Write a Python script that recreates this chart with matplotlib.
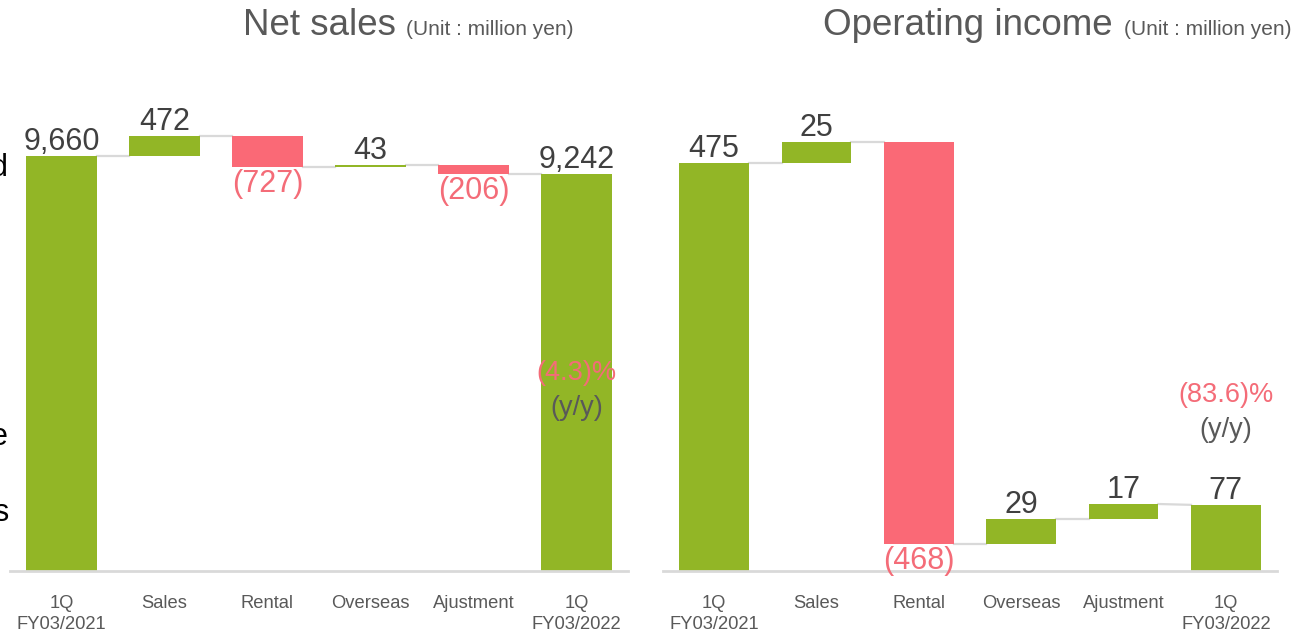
import matplotlib
matplotlib.use("Agg")
import matplotlib.pyplot as plt
import numpy as np

plt.rcParams['font.family'] = ['Liberation Sans', 'DejaVu Sans']

# data
categories = ["1Q\nFY03/2021", "Sales", "Rental", "Overseas", "Ajustment", "1Q\nFY03/2022"]
sales_start = 9660
sales_deltas = [472, -727, 43, -206]
sales_end = 9242
sales_yoy = "(4.3)%"

oi_start = 475
oi_deltas = [25, -468, 29, 17]
oi_end = 77
oi_yoy = "(83.6)%"

GREEN = "#92B626"
RED = "#FA6976"
RED_TXT = "#F46C78"
DARK = "#404040"
GRAY_TXT = "#595959"
LINE = "#D9D9D9"

W, H = 1310, 631
AX_H_PX = 481


def fmt(v):
    return "({:,})".format(abs(v)) if v < 0 else "{:,}".format(v)


def waterfall(ax, start, deltas, end, ymax, yoy, yoy_y):
    x = np.arange(len(categories))
    bottoms, heights, colors = [0], [start], [GREEN]
    level = start
    levels = [start]
    for d in deltas:
        if d >= 0:
            bottoms.append(level)
            heights.append(d)
            colors.append(GREEN)
        else:
            bottoms.append(level + d)
            heights.append(-d)
            colors.append(RED)
        level += d
        levels.append(level)
    bottoms.append(0)
    heights.append(end)
    colors.append(GREEN)

    bw = 0.68
    ax.bar(x, heights, bottom=bottoms, width=bw, color=colors, zorder=2)

    # connector lines between bars
    for i in range(len(x) - 1):
        y0 = levels[i]
        y1 = end if i + 1 == len(x) - 1 else levels[i]
        ax.plot([x[i] + bw / 2, x[i + 1] - bw / 2], [y0, y1], color=LINE, lw=1.6, zorder=1)

    px = ymax / AX_H_PX
    vals = [start] + deltas + [end]
    for i, v in enumerate(vals):
        top = bottoms[i] + heights[i]
        if v < 0:
            ax.text(x[i], bottoms[i] - 2 * px, fmt(v), ha='center', va='top',
                    fontsize=22, color=RED_TXT)
        else:
            ax.text(x[i], top + 6 * px, fmt(v), ha='center', va='baseline',
                    fontsize=22, color=DARK)

    ax.text(x[-1], yoy_y, yoy, ha='center', va='center', fontsize=19.5,
            color=RED_TXT, transform=ax.get_xaxis_transform())
    ax.text(x[-1], yoy_y - 0.072, "(y/y)", ha='center', va='center', fontsize=19.5,
            color=GRAY_TXT, transform=ax.get_xaxis_transform())

    ax.set_xlim(-0.5, len(x) - 0.5)
    ax.set_ylim(0, ymax)
    ax.set_xticks(x)
    ax.set_xticklabels(categories, fontsize=13.2, color=GRAY_TXT, linespacing=1.3)
    ax.tick_params(axis='x', length=0, pad=17)
    ax.set_yticks([])
    for s in ["top", "right", "left"]:
        ax.spines[s].set_visible(False)
    ax.spines["bottom"].set_color(LINE)
    ax.spines["bottom"].set_linewidth(2)
    ax.patch.set_alpha(0)


fig = plt.figure(figsize=(W / 100, H / 100), dpi=100)

ax_bottom = (H - 571) / H
ax_h = AX_H_PX / H
ax1 = fig.add_axes([10 / W, ax_bottom, 618 / W, ax_h])
ax2 = fig.add_axes([663 / W, ax_bottom, 614 / W, ax_h])

waterfall(ax1, sales_start, sales_deltas, sales_end, AX_H_PX * 9660 / 415, sales_yoy,
          (571 - 373) / AX_H_PX)
waterfall(ax2, oi_start, oi_deltas, oi_end, AX_H_PX * 475 / 408, oi_yoy,
          (571 - 395) / AX_H_PX)

# titles
ty = (H - 35) / H
fig.text(243 / W, ty, "Net sales", fontsize=26.5, color="#595959", ha='left', va='baseline')
fig.text(406 / W, ty, "(Unit : million yen)", fontsize=15, color="#595959",
         ha='left', va='baseline')
fig.text(823 / W, ty, "Operating income", fontsize=26.5, color="#595959", ha='left',
         va='baseline')
fig.text(1124 / W, ty, "(Unit : million yen)", fontsize=15, color="#595959",
         ha='left', va='baseline')

# letters clipped at the very left edge of the slide (cut off in the original too)
for ch, yy in [("d", 168), ("e", 437), ("s", 513)]:
    fig.text(8 / W, (H - yy) / H, ch, fontsize=22, color="black", ha='right', va='center')

fig.savefig("out.png", dpi=100)
